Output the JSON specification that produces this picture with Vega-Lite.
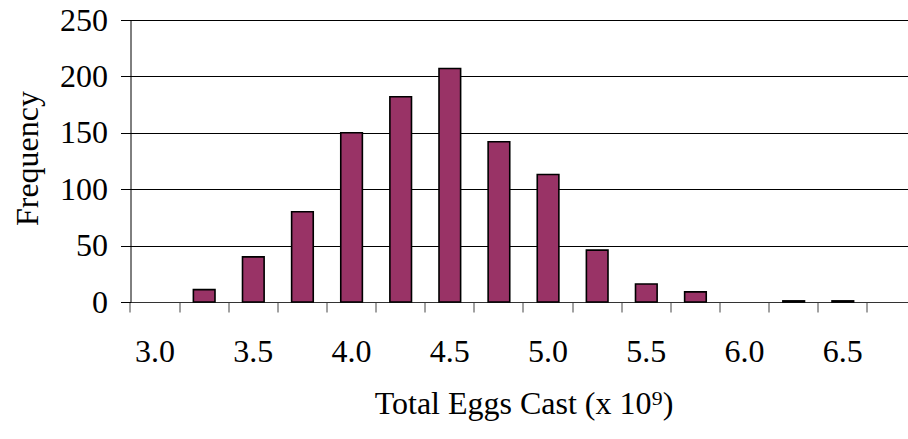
{
  "$schema": "https://vega.github.io/schema/vega-lite/v6.json",
  "autosize": "none",
  "width": 786,
  "height": 282,
  "padding": {"left": 130.5, "top": 20, "right": 0, "bottom": 137},
  "background": "white",
  "config": {
    "view": {"stroke": null},
    "font": "Liberation Serif",
    "axis": {
      "labelFont": "Liberation Serif",
      "titleFont": "Liberation Serif",
      "labelFontSize": 32,
      "titleFontSize": 32,
      "labelColor": "#000",
      "titleColor": "#000",
      "titleFontWeight": "normal",
      "domainColor": "#000",
      "tickColor": "#444",
      "tickSize": 10,
      "gridColor": "#000",
      "gridWidth": 1
    }
  },
  "data": {
    "values": [
      {"eggs": 3.25, "frequency": 11},
      {"eggs": 3.5, "frequency": 40},
      {"eggs": 3.75, "frequency": 80},
      {"eggs": 4.0, "frequency": 150},
      {"eggs": 4.25, "frequency": 182},
      {"eggs": 4.5, "frequency": 207},
      {"eggs": 4.75, "frequency": 142},
      {"eggs": 5.0, "frequency": 113},
      {"eggs": 5.25, "frequency": 46},
      {"eggs": 5.5, "frequency": 16},
      {"eggs": 5.75, "frequency": 9},
      {"eggs": 6.25, "frequency": 1},
      {"eggs": 6.5, "frequency": 1}
    ]
  },
  "mark": {"type": "bar", "fill": "#993366", "stroke": "#000", "strokeWidth": 1.6},
  "encoding": {
    "x": {
      "field": "eggs",
      "type": "ordinal",
      "sort": "ascending",
      "scale": {
        "domain": [3.0, 3.25, 3.5, 3.75, 4.0, 4.25, 4.5, 4.75, 5.0, 5.25, 5.5, 5.75, 6.0, 6.25, 6.5, 6.75],
        "paddingInner": 0.56,
        "paddingOuter": 0.28
      },
      "axis": {
        "title": "Total Eggs Cast (x 10⁹)",
        "titleY": 86,
        "titleBaseline": "top",
        "bandPosition": -0.6364,
        "labelOffset": 0,
        "labelAngle": 0,
        "labelPadding": 24,
        "labelExpr": "datum.value % 0.5 == 0 ? format(datum.value, '.1f') : ''",
        "grid": false,
        "domainColor": "#333"
      }
    },
    "y": {
      "field": "frequency",
      "type": "quantitative",
      "scale": {"domain": [0, 250], "nice": false},
      "axis": {
        "title": "Frequency",
        "values": [0, 50, 100, 150, 200, 250],
        "grid": true,
        "labelPadding": 13,
        "titleAngle": -90,
        "titleBaseline": "top",
        "titleAlign": "center",
        "titleX": -118,
        "titleY": 138,
        "tickColor": "#000"
      }
    }
  }
}
